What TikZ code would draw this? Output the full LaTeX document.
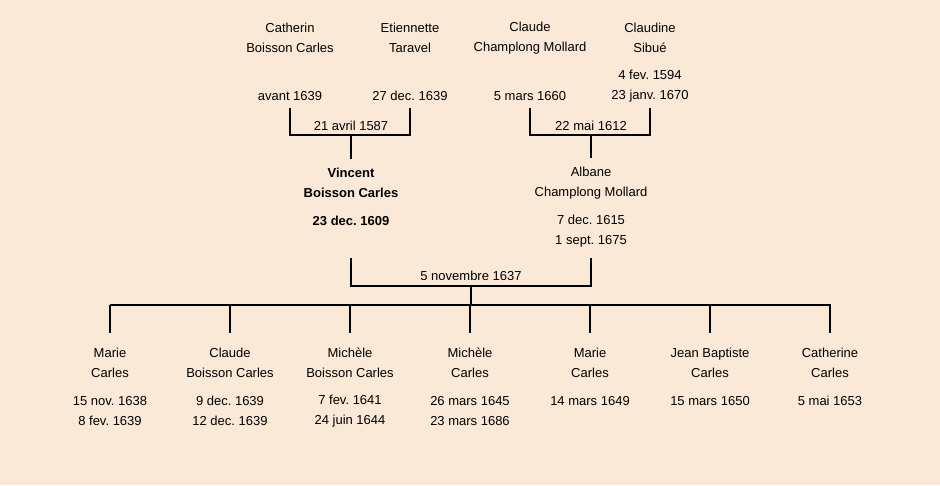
\documentclass[tikz,border=0pt]{standalone}
\usepackage{fontspec}
\setmainfont{Liberation Sans}
\usepackage{xcolor}
\usetikzlibrary{positioning}
\definecolor{parchment}{HTML}{FBE9D7}

\tikzset{
    person/.style={align=center, inner sep=2pt, font=\fontsize{13}{20}\selectfont\frenchspacing},
    heir/.style={person, font=\fontsize{13}{20}\selectfont\frenchspacing\bfseries},
    link/.style={line width=1.7pt}
}

\begin{document}
\begin{tikzpicture}[x=1pt, y=-1pt]
    \fill[parchment] (0,0) rectangle (940,485);

    % grandparents
    \node[person] (catherin) at (290,38) {Catherin\\Boisson Carles};
    \node[person] (catherinD) at (290,96) {avant 1639};
    \node[person] (etiennette) at (410,38) {Etiennette\\Taravel};
    \node[person] (etiennetteD) at (410,96) {27 dec. 1639};
    \node[person] (claude) at (530,38) {Claude\\Champlong Mollard};
    \node[person] (claudeD) at (530,96) {5 mars 1660};
    \node[person] (claudine) at (650,38) {Claudine\\Sibué};
    \node[person] (claudineD) at (650,86) {4 fev. 1594\\23 janv. 1670};

    % parents
    \node[heir] (vincent) at (351,183) {Vincent\\Boisson Carles};
    \node[heir] (vincentD) at (351,221) {23 dec. 1609};
    \node[person] (albane) at (591,183) {Albane\\Champlong Mollard};
    \node[person] (albaneD) at (591,231) {7 dec. 1615\\1 sept. 1675};

    % marriages
    \coordinate (top1) at (0,108);
    \coordinate (m1) at (351,135);
    \coordinate (m2) at (591,135);
    \draw[link] (catherinD |- top1) |- (m1) -| (etiennetteD |- top1);
    \draw[link] (claudeD |- top1) |- (m2) -| (claudineD |- top1);
    \node[person] at (351,126) {21 avril 1587};
    \node[person] at (591,126) {22 mai 1612};
    \draw[link, shorten >=7pt] (m1) -- (vincent.north);
    \draw[link, shorten >=7pt] (m2) -- (albane.north);

    \coordinate (top3) at (0,258);
    \coordinate (m3) at (471,286);
    \coordinate (bar) at (471,305);
    \draw[link] (vincentD |- top3) |- (m3) -| (albaneD |- top3);
    \node[person] at (471,276) {5 novembre 1637};
    \draw[link] (m3) -- (bar);
    \draw[link] (110,305) -- (831,305);

    % children
    \foreach \id/\x/\name/\dates/\dy in {
        c1/110/{Marie\\Carles}/{15 nov. 1638\\8 fev. 1639}/411,
        c2/230/{Claude\\Boisson Carles}/{9 dec. 1639\\12 dec. 1639}/411,
        c3/350/{Michèle\\Boisson Carles}/{7 fev. 1641\\24 juin 1644}/411,
        c4/470/{Michèle\\Carles}/{26 mars 1645\\23 mars 1686}/411,
        c5/590/{Marie\\Carles}/{14 mars 1649}/401,
        c6/710/{Jean Baptiste\\Carles}/{15 mars 1650}/401,
        c7/830/{Catherine\\Carles}/{5 mai 1653}/401}
    {
        \node[person] (\id) at (\x,363) {\name};
        \node[person] (\id D) at (\x,\dy) {\dates};
        \draw[link] (\id |- bar) -- ++(0,28);
    }
\end{tikzpicture}
\end{document}
